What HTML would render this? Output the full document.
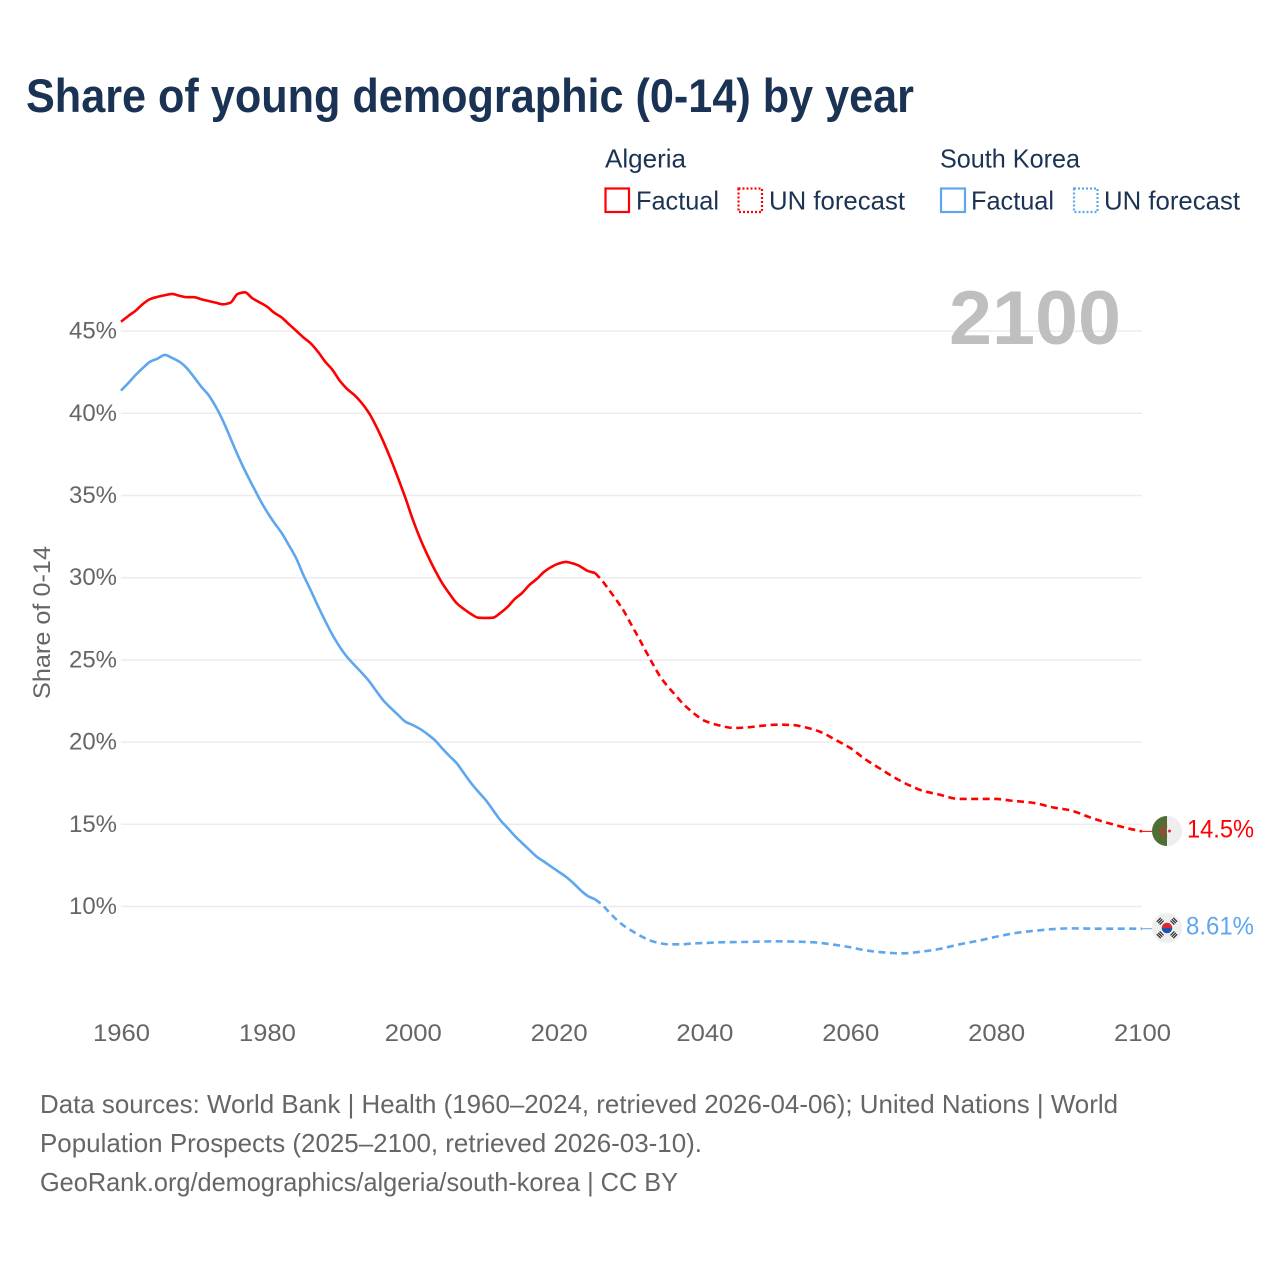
<!DOCTYPE html>
<html lang="en">
<head>
<meta charset="utf-8">
<title>Share of young demographic (0-14) by year</title>
<style>
  html, body { margin: 0; padding: 0; background: #ffffff; }
  body { width: 1280px; height: 1280px; overflow: hidden; }
  svg { display: block; font-family: "Liberation Sans", "DejaVu Sans", sans-serif; }
</style>
</head>
<body>
<svg id="chart" width="1280" height="1280" viewBox="0 0 1280 1280" xmlns="http://www.w3.org/2000/svg">
  <text x="26" y="112" font-size="47" font-weight="700" fill="#1a3253" textLength="888" lengthAdjust="spacingAndGlyphs">Share of young demographic (0-14) by year</text>

  <g font-size="26" fill="#1c3454">
    <text x="605" y="167.5" textLength="81" lengthAdjust="spacingAndGlyphs">Algeria</text>
    <rect x="605.5" y="188.5" width="23.5" height="23.5" fill="none" stroke="#ff0000" stroke-width="2.2"/>
    <text x="636" y="209.5" textLength="83" lengthAdjust="spacingAndGlyphs">Factual</text>
    <rect x="738.5" y="188.5" width="23.5" height="23.5" fill="none" stroke="#ff0000" stroke-width="2.2" stroke-dasharray="2 2"/>
    <text x="769" y="209.5" textLength="136" lengthAdjust="spacingAndGlyphs">UN forecast</text>

    <text x="940" y="167.5" textLength="140" lengthAdjust="spacingAndGlyphs">South Korea</text>
    <rect x="941" y="188.5" width="24" height="23.5" fill="none" stroke="#5ea7ee" stroke-width="2.2"/>
    <text x="971" y="209.5" textLength="83" lengthAdjust="spacingAndGlyphs">Factual</text>
    <rect x="1074" y="188.5" width="23.5" height="23.5" fill="none" stroke="#5ea7ee" stroke-width="2.2" stroke-dasharray="2 2"/>
    <text x="1104" y="209.5" textLength="136" lengthAdjust="spacingAndGlyphs">UN forecast</text>
  </g>

  <g id="grid"></g>
  <g id="y-axis" font-size="24" fill="#666666" text-anchor="end"></g>
  <g id="x-axis" font-size="24" fill="#666666" text-anchor="middle"></g>

  <text transform="translate(50 699) rotate(-90)" font-size="24" fill="#666666" textLength="153" lengthAdjust="spacingAndGlyphs">Share of 0-14</text>
  <text x="949" y="344" font-size="76" font-weight="700" fill="#bfbfbf" textLength="172" lengthAdjust="spacingAndGlyphs">2100</text>

  <g id="series"></g>

  <g id="flag-algeria">
    <circle cx="1167" cy="831" r="15" fill="#eeeeee"/>
    <path d="M1167 816 A15 15 0 0 0 1167 846 Z" fill="#506e33"/>
    <path d="M1168 827 A4.7 4.7 0 1 0 1168 835 A4.05 4.05 0 1 1 1168 827 Z" fill="#d8283a"/>
    <circle cx="1169.5" cy="831" r="1.5" fill="#d8283a"/>
  </g>
  <text id="label-algeria" x="1187" y="837.5" font-size="25" fill="#ff0000" textLength="67" lengthAdjust="spacingAndGlyphs">14.5%</text>

  <g id="flag-korea">
    <circle cx="1167" cy="928" r="15" fill="#eeeeee"/>
    <path d="M1161.7 928 A5.3 5.3 0 0 1 1172.3 928 Z" fill="#d5293c"/>
    <path d="M1161.7 928 A5.3 5.3 0 0 0 1172.3 928 Z" fill="#1a57a8"/>
    <g fill="#2a2a2a">
      <g transform="translate(1160.2 921.2) rotate(-45)">
        <rect x="-2.8" y="-2.6" width="5.6" height="1.2"/><rect x="-2.8" y="-0.6" width="5.6" height="1.2"/><rect x="-2.8" y="1.4" width="5.6" height="1.2"/>
      </g>
      <g transform="translate(1173.8 921.2) rotate(45)">
        <rect x="-2.8" y="-2.6" width="5.6" height="1.2"/><rect x="-2.8" y="-0.6" width="5.6" height="1.2"/><rect x="-2.8" y="1.4" width="5.6" height="1.2"/>
      </g>
      <g transform="translate(1160.2 934.8) rotate(45)">
        <rect x="-2.8" y="-2.6" width="5.6" height="1.2"/><rect x="-2.8" y="-0.6" width="5.6" height="1.2"/><rect x="-2.8" y="1.4" width="5.6" height="1.2"/>
      </g>
      <g transform="translate(1173.8 934.8) rotate(-45)">
        <rect x="-2.8" y="-2.6" width="5.6" height="1.2"/><rect x="-2.8" y="-0.6" width="5.6" height="1.2"/><rect x="-2.8" y="1.4" width="5.6" height="1.2"/>
      </g>
    </g>
  </g>
  <text id="label-korea" x="1186" y="934.5" font-size="25" fill="#5ea7ee" textLength="68" lengthAdjust="spacingAndGlyphs">8.61%</text>

  <g font-size="26" fill="#666666">
    <text x="40" y="1113" textLength="1078" lengthAdjust="spacingAndGlyphs">Data sources: World Bank | Health (1960–2024, retrieved 2026-04-06); United Nations | World</text>
    <text x="40" y="1152" textLength="662" lengthAdjust="spacingAndGlyphs">Population Prospects (2025–2100, retrieved 2026-03-10).</text>
    <text x="40" y="1191" textLength="638" lengthAdjust="spacingAndGlyphs">GeoRank.org/demographics/algeria/south-korea | CC BY</text>
  </g>
</svg>

<script>
const xTickYears = [1960, 1980, 2000, 2020, 2040, 2060, 2080, 2100];
const yTickValues = [10, 15, 20, 25, 30, 35, 40, 45];
const factualStartYear = 1960;

const algeriaFactual = [
  45.57, 45.92, 46.24, 46.65, 46.95, 47.08, 47.18, 47.26, 47.15, 47.06,
  47.06, 46.94, 46.83, 46.73, 46.63, 46.73, 47.26, 47.36, 47.00, 46.75,
  46.49, 46.12, 45.84, 45.43, 45.03, 44.62, 44.26, 43.75, 43.14, 42.64,
  41.98, 41.48, 41.11, 40.63, 40.02, 39.20, 38.25, 37.20, 36.05, 34.85,
  33.55, 32.40, 31.40, 30.50, 29.70, 29.05, 28.46, 28.10, 27.79, 27.57,
  27.55, 27.57, 27.85, 28.22, 28.71, 29.07, 29.56, 29.92, 30.35, 30.65,
  30.86, 30.96, 30.86, 30.68, 30.41, 30.29
];
const koreaFactual = [
  41.38, 41.84, 42.33, 42.76, 43.14, 43.32, 43.55, 43.37, 43.14, 42.76,
  42.21, 41.62, 41.11, 40.40, 39.53, 38.50, 37.46, 36.51, 35.64, 34.79,
  34.02, 33.35, 32.74, 31.99, 31.20, 30.17, 29.25, 28.28, 27.37, 26.52,
  25.79, 25.18, 24.69, 24.22, 23.72, 23.11, 22.52, 22.07, 21.65, 21.24,
  21.04, 20.80, 20.49, 20.13, 19.64, 19.17, 18.73, 18.12, 17.51, 16.98,
  16.48, 15.87, 15.26, 14.78, 14.29, 13.86, 13.44, 13.03, 12.73, 12.42,
  12.12, 11.81, 11.43, 11.00, 10.64, 10.44
];

const algeriaForecastYears = [
  2025, 2026, 2027, 2028, 2029, 2030, 2031, 2032, 2033, 2034, 2035, 2036, 2037, 2038, 2039,
  2040, 2041, 2042, 2044, 2046, 2048, 2050, 2052, 2054, 2056, 2058, 2060, 2062, 2064, 2066,
  2068, 2070, 2072, 2075, 2080, 2082, 2085, 2088, 2090, 2093, 2095, 2098, 2100
];
const algeriaForecast = [
  30.29, 29.80, 29.21, 28.60, 27.93, 27.12, 26.33, 25.50, 24.69, 23.94, 23.37, 22.87, 22.36, 21.95, 21.59,
  21.30, 21.14, 21.02, 20.86, 20.90, 21.00, 21.06, 21.04, 20.88, 20.60, 20.13, 19.64, 18.97, 18.41, 17.86,
  17.39, 17.03, 16.83, 16.54, 16.54, 16.44, 16.31, 16.01, 15.87, 15.40, 15.12, 14.76, 14.57
];

const koreaForecastYears = [
  2025, 2026, 2027, 2028, 2029, 2030, 2031, 2032, 2033, 2034, 2035, 2037, 2038, 2040, 2042,
  2045, 2050, 2052, 2055, 2058, 2060, 2062, 2064, 2067, 2070, 2072, 2075, 2078, 2080, 2083,
  2085, 2088, 2090, 2095, 2100
];
const koreaForecast = [
  10.44, 10.09, 9.62, 9.18, 8.81, 8.53, 8.27, 8.04, 7.86, 7.76, 7.70, 7.70, 7.74, 7.78, 7.82,
  7.84, 7.88, 7.87, 7.82, 7.66, 7.52, 7.34, 7.23, 7.15, 7.27, 7.40, 7.70, 7.96, 8.16, 8.41,
  8.51, 8.63, 8.67, 8.65, 8.65
];

const SVG_NS = 'http://www.w3.org/2000/svg';
function xScale(year) { return 121 + (year - 1960) * 7.293; }
function yScale(value) { return 906.5 - (value - 10) * 16.44; }

// Monotone cubic curve through the data points, so no overshoot between readings.
function curvePath(years, values) {
  const pts = years.map(function (yr, i) { return [xScale(yr), yScale(values[i])]; });
  const secants = [];
  for (let i = 0; i < pts.length - 1; i++) {
    secants.push((pts[i + 1][1] - pts[i][1]) / (pts[i + 1][0] - pts[i][0]));
  }
  const slope = pts.map(function (p, i) {
    if (i === 0) { return secants[0]; }
    if (i === pts.length - 1) { return secants[secants.length - 1]; }
    const a = secants[i - 1];
    const b = secants[i];
    if (a * b <= 0) { return 0; }
    return 2 * a * b / (a + b);
  });
  let d = 'M' + pts[0][0].toFixed(2) + ' ' + pts[0][1].toFixed(2);
  for (let i = 1; i < pts.length; i++) {
    const h = (pts[i][0] - pts[i - 1][0]) / 3;
    d += 'C' + (pts[i - 1][0] + h).toFixed(2) + ' ' + (pts[i - 1][1] + slope[i - 1] * h).toFixed(2) +
         ' ' + (pts[i][0] - h).toFixed(2) + ' ' + (pts[i][1] - slope[i] * h).toFixed(2) +
         ' ' + pts[i][0].toFixed(2) + ' ' + pts[i][1].toFixed(2);
  }
  return d;
}

function factualYears(values) {
  return values.map(function (v, i) { return factualStartYear + i; });
}

const gridGroup = document.getElementById('grid');
const yAxisGroup = document.getElementById('y-axis');
const xAxisGroup = document.getElementById('x-axis');
const seriesGroup = document.getElementById('series');

yTickValues.forEach(function (tick) {
  const line = document.createElementNS(SVG_NS, 'line');
  
  
  line.setAttribute('x1', 121);
  line.setAttribute('x2', 1142);
  line.setAttribute('y1', yScale(tick));
  line.setAttribute('y2', yScale(tick));
  line.setAttribute('stroke', '#ececec');
  line.setAttribute('stroke-width', 1.5);
  gridGroup.appendChild(line);

  const label = document.createElementNS(SVG_NS, 'text');
  
  
  label.setAttribute('x', 117);
  label.setAttribute('y', yScale(tick) + 7.5);
  label.setAttribute('textLength', 48);
  label.setAttribute('lengthAdjust', 'spacingAndGlyphs');
  label.textContent = tick + '%';
  yAxisGroup.appendChild(label);
});

xTickYears.forEach(function (year) {
  const label = document.createElementNS(SVG_NS, 'text');
  
  
  label.setAttribute('x', xScale(year) + 0.5);
  label.setAttribute('y', 1041);
  label.setAttribute('textLength', 57);
  label.setAttribute('lengthAdjust', 'spacingAndGlyphs');
  label.textContent = year;
  xAxisGroup.appendChild(label);
});

function drawLine(d, color, dashed, name) {
  const path = document.createElementNS(SVG_NS, 'path');
  
  
  path.setAttribute('d', d);
  path.setAttribute('fill', 'none');
  path.setAttribute('stroke', color);
  path.setAttribute('stroke-width', 2.6);
  path.setAttribute('stroke-linejoin', 'round');
  if (dashed) { path.setAttribute('stroke-dasharray', '7 4.5'); }
  seriesGroup.appendChild(path);
}

function drawConnector(value, color, name) {
  const line = document.createElementNS(SVG_NS, 'line');
  
  
  line.setAttribute('x1', xScale(2100));
  line.setAttribute('x2', 1153);
  line.setAttribute('y1', yScale(value));
  line.setAttribute('y2', yScale(value));
  line.setAttribute('stroke', color);
  line.setAttribute('stroke-width', 1);
  seriesGroup.appendChild(line);
}

drawLine(curvePath(factualYears(algeriaFactual), algeriaFactual), '#ff0000', false, 'line-algeria-factual');
drawLine(curvePath(algeriaForecastYears, algeriaForecast), '#ff0000', true, 'line-algeria-forecast');
drawLine(curvePath(factualYears(koreaFactual), koreaFactual), '#5ea7ee', false, 'line-korea-factual');
drawLine(curvePath(koreaForecastYears, koreaForecast), '#5ea7ee', true, 'line-korea-forecast');
drawConnector(algeriaForecast[algeriaForecast.length - 1], '#ff0000', 'connector-algeria');
drawConnector(koreaForecast[koreaForecast.length - 1], '#5ea7ee', 'connector-korea');
</script>
</body>
</html>
